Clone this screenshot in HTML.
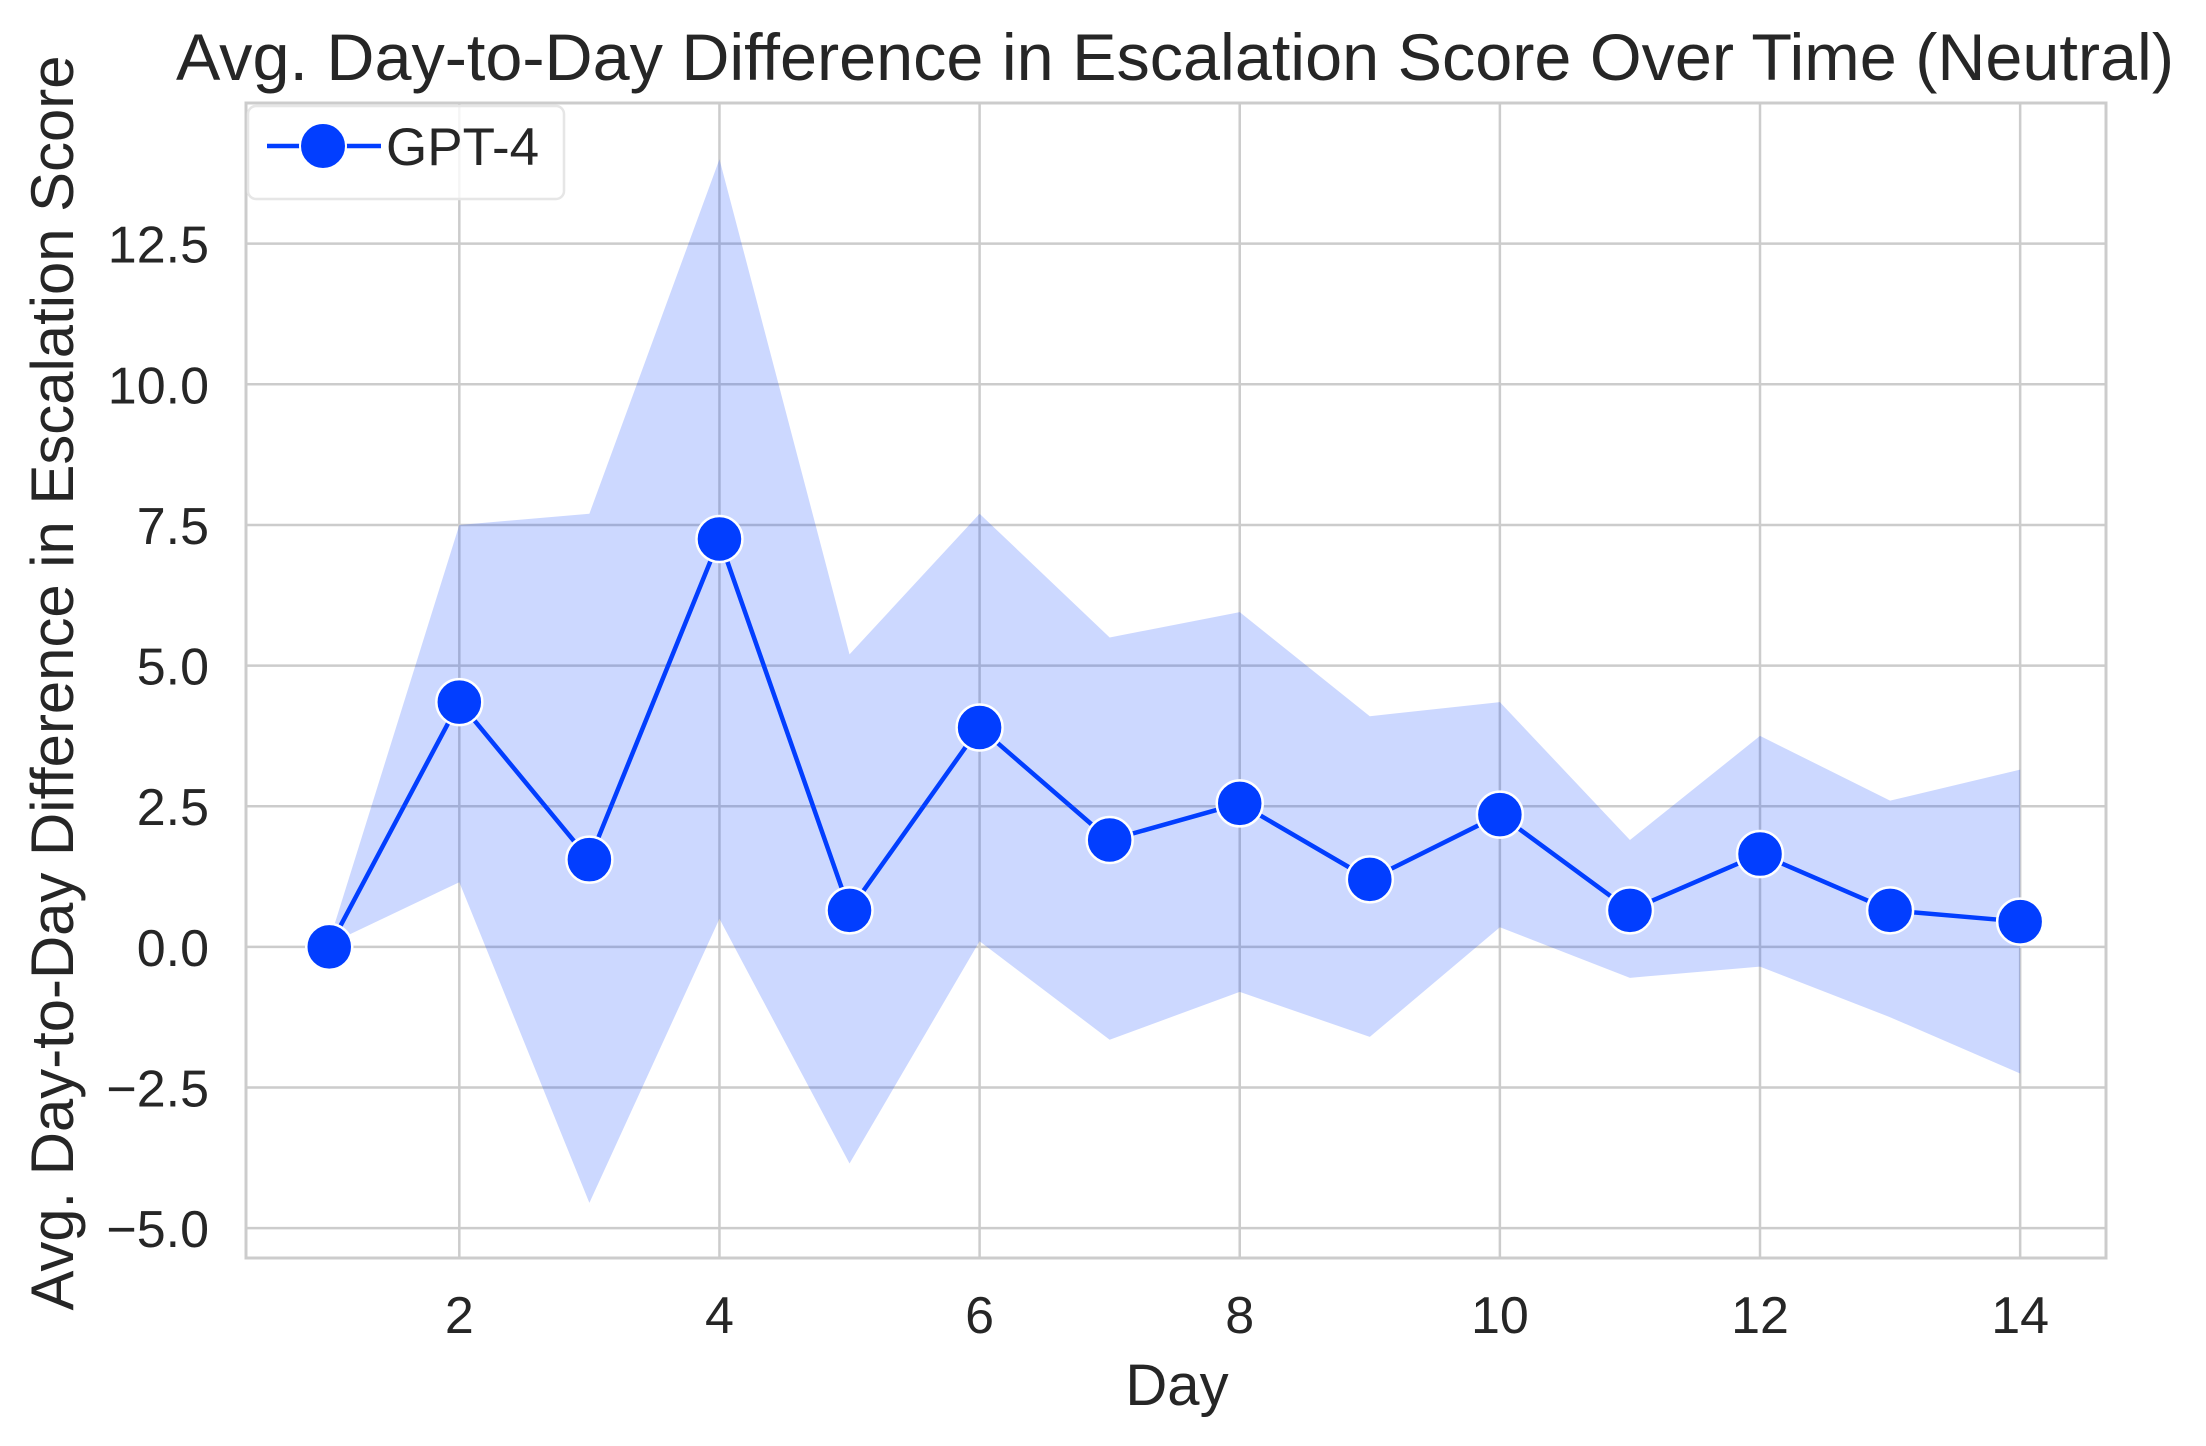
<!DOCTYPE html>
<html><head><meta charset="utf-8"><style>
html,body{margin:0;padding:0;background:#fff}
svg{display:block}
text{font-family:"Liberation Sans",Arial,sans-serif;fill:#262626}
</style></head><body>
<svg id="chart" width="2206" height="1446" viewBox="0 0 2206 1446">
<rect x="0" y="0" width="2206" height="1446" fill="#fff"/>
<text x="1175" y="80" font-size="66" text-anchor="middle" textLength="1998" lengthAdjust="spacingAndGlyphs">Avg. Day-to-Day Difference in Escalation Score Over Time (Neutral)</text>
<g id="grid"></g>
<g id="band"></g>
<g id="series"></g>
<g id="axes"></g>
<text x="1177" y="1405" font-size="58" text-anchor="middle">Day</text>
<text transform="translate(73,683) rotate(-90)" font-size="60" text-anchor="middle" textLength="1255" lengthAdjust="spacingAndGlyphs">Avg. Day-to-Day Difference in Escalation Score</text>
<g>
<rect x="248" y="106" width="316" height="93" rx="8" fill="#fff" fill-opacity="0.8" stroke="#e6e6e6" stroke-width="2.5"/>
<line x1="267" y1="146" x2="381" y2="146" stroke="#023eff" stroke-width="4.5"/>
<circle cx="323" cy="146" r="23" fill="#023eff" stroke="#fff" stroke-width="2"/>
<text x="386" y="165" font-size="53">GPT-4</text>
</g>
</svg>
<script>
const days = [1,2,3,4,5,6,7,8,9,10,11,12,13,14];
const meanValues = [0,4.35,1.55,7.25,0.65,3.9,1.9,2.55,1.2,2.35,0.65,1.65,0.65,0.45];
const upperValues = [0.1,7.5,7.7,14.0,5.2,7.7,5.5,5.95,4.1,4.35,1.9,3.75,2.6,3.15];
const lowerValues = [0.05,1.15,-4.55,0.5,-3.85,0.1,-1.65,-0.8,-1.6,0.35,-0.55,-0.35,-1.25,-2.25];
const xTicks = [2,4,6,8,10,12,14];
const yTicks = [-5,-2.5,0,2.5,5,7.5,10,12.5];
const yTickLabels = ["\u22125.0","\u22122.5","0.0","2.5","5.0","7.5","10.0","12.5"];

const L=246,R=2106,T=103,B=1258;
const xMin=0.36,xMax=14.66,yMin=-5.53,yMax=15.0;
function xs(v){return L+(v-xMin)/(xMax-xMin)*(R-L);}
function ys(v){return B-(v-yMin)/(yMax-yMin)*(B-T);}
const NS="http://www.w3.org/2000/svg";
function mk(tag,attrs,parent){const e=document.createElementNS(NS,tag);for(const k in attrs)e.setAttribute(k,attrs[k]);parent.appendChild(e);return e;}
const grid=document.getElementById('grid'),band=document.getElementById('band'),series=document.getElementById('series'),axes=document.getElementById('axes');

xTicks.forEach(t=>{
  const g=mk('line',{x1:xs(t),x2:xs(t),y1:T,y2:B,stroke:'#cccccc','stroke-width':2.5},grid);
  
  
  const tx=mk('text',{x:xs(t),y:1333,'font-size':52,'text-anchor':'middle'},axes);
  tx.textContent=t;
  
  
});
yTicks.forEach((t,i)=>{
  const g=mk('line',{x1:L,x2:R,y1:ys(t),y2:ys(t),stroke:'#cccccc','stroke-width':2.5},grid);
  
  
  const tx=mk('text',{x:209,y:ys(t)+19,'font-size':52,'text-anchor':'end'},axes);
  tx.textContent=yTickLabels[i];
  
  
});
const frame=mk('rect',{x:L,y:T,width:R-L,height:B-T,fill:'none',stroke:'#cccccc','stroke-width':3},axes);



let pts=days.map((d,i)=>xs(d)+','+ys(upperValues[i]));
for(let i=days.length-1;i>=0;i--)pts.push(xs(days[i])+','+ys(lowerValues[i]));
const poly=mk('polygon',{points:pts.join(' '),fill:'#023eff','fill-opacity':0.2,stroke:'none'},band);



const line=mk('polyline',{points:days.map((d,i)=>xs(d)+','+ys(meanValues[i])).join(' '),fill:'none',stroke:'#023eff','stroke-width':4.5,'stroke-linejoin':'round'},series);


days.forEach((d,i)=>{
  const c=mk('circle',{cx:xs(d),cy:ys(meanValues[i]),r:23,fill:'#023eff',stroke:'#fff','stroke-width':2.5},series);
  
  
});
</script>
</body></html>
